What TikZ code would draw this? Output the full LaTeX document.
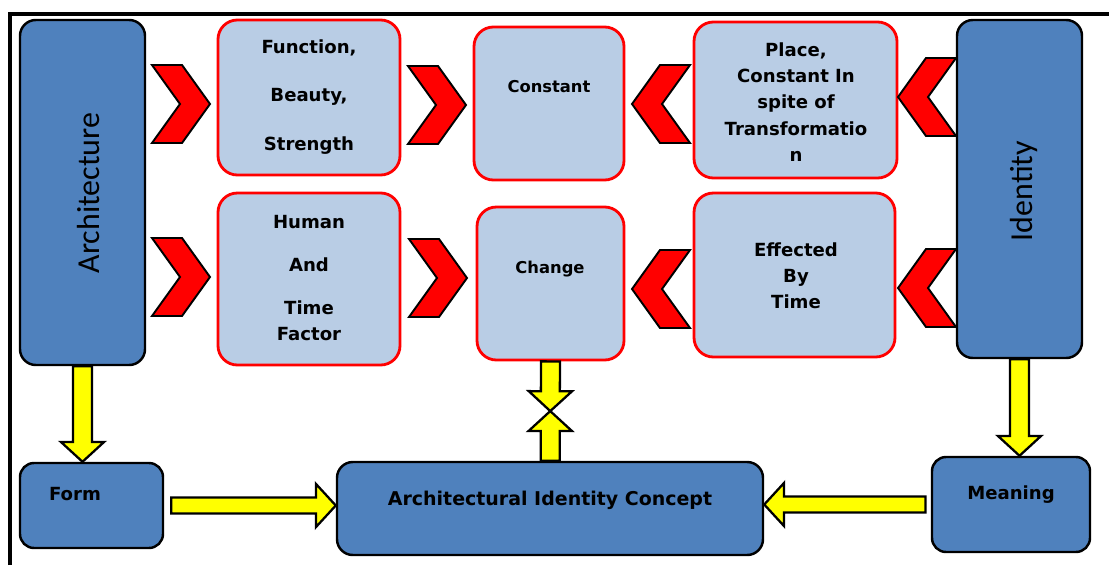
\documentclass[tikz,border=0pt]{standalone}
\usepackage{fontspec}
\setmainfont{DejaVu Sans}
\newfontfamily\calibfont{Carlito}
\usepackage{xcolor}
\usepackage{tikz}
\usetikzlibrary{positioning,fit,calc}
\definecolor{ident-blue}{RGB}{79,129,189}
\definecolor{ident-pale}{RGB}{185,205,229}
\definecolor{ident-red}{RGB}{255,0,0}
\definecolor{ident-yellow}{RGB}{255,255,0}

\tikzset{
  bluebox/.style={draw=black, line width=1.4pt, fill=ident-blue, rounded corners=9pt, inner sep=0pt},
  redbox/.style={draw=ident-red, line width=1.6pt, fill=ident-pale, rounded corners=11pt, inner sep=0pt},
  boxtext/.style={font=\bfseries\fontsize{10.3}{14.9}\selectfont, align=center, inner sep=0pt},
  smalltext/.style={font=\bfseries\fontsize{9.3}{12}\selectfont, inner sep=0pt},
  aictext/.style={font=\bfseries\fontsize{10.8}{13}\selectfont, inner sep=0pt},
  bigtext/.style={font=\calibfont\fontsize{18.2}{20}\selectfont, inner sep=0pt},
  chevron/.style={fill=ident-red, draw=black, line width=1.1pt, line join=miter},
  yarrow/.style={fill=ident-yellow, draw=black, line width=1.3pt, line join=miter},
  chevR/.pic={\draw[chevron] (-29,-39) -- (1,-39) -- (29,0) -- (1,39) -- (-29,39) -- (-1,0) -- cycle;},
  chevL/.pic={\draw[chevron] (29,-39) -- (-1,-39) -- (-29,0) -- (-1,39) -- (29,39) -- (1,0) -- cycle;}
}

% block arrow from #2 to #3, half shaft width #1
\newcommand{\blockarrow}[3][5.4pt]{%
  \draw[yarrow] let \p1=(#2), \p2=(#3),
      \n1={atan2(\y2-\y1,\x2-\x1)}, \n2={veclen(\x2-\x1,\y2-\y1)} in
    [shift={(\p1)}, rotate=\n1]
    (0pt,-#1) -- ({\n2-11.3pt},-#1) -- ({\n2-11.3pt},-12.3pt) -- ({\n2*1pt},0pt)
    -- ({\n2-11.3pt},12.3pt) -- ({\n2-11.3pt},#1) -- (0pt,#1) -- cycle;}

\begin{document}
\begin{tikzpicture}[x=0.02cm, y=-0.02cm]
  \useasboundingbox (0,0) rectangle (1109,565);

  % frame
  \draw[line width=2.2pt] (10,565) -- (10,14) -- (1109,14);

  % Architecture and Identity
  \node[bluebox, fit={(20,20) (145,365)}] (arch) {};
  \node[bigtext, rotate=90] (archT) at (89,193) {Architecture};
  \node[bluebox, fit={(957,20) (1082,358)}] (id) {};
  \node[bigtext, rotate=90] (idT) at (1024,191) {Identity};

  % top row
  \node[redbox, fit={(218,20) (400,175)}] (func) {};
  \node[boxtext] (funcT) at (309,97) {Function,\\[12.9pt]Beauty,\\[12.9pt]Strength};
  \node[redbox, fit={(474,27) (624,180)}] (const) {};
  \node[smalltext] (constT) at (549,87) {Constant};
  \node[redbox, fit={(694,22) (897,178)}] (place) {};
  \node[boxtext] (placeT) at (796,102) {Place,\\Constant In\\spite of\\Transformatio\\n};

  % bottom row
  \node[redbox, fit={(218,193) (400,365)}] (human) {};
  \node[boxtext] (humanT) at (309,278) {Human\\[9.5pt]And\\[9.5pt]Time\\Factor};
  \node[redbox, fit={(477,207) (624,360)}] (change) {};
  \node[smalltext] (changeT) at (550,269) {Change};
  \node[redbox, fit={(694,193) (895,357)}] (effect) {};
  \node[boxtext] (effectT) at (796,276) {Effected\\By\\Time};

  % lower boxes
  \node[bluebox, rounded corners=8pt, fit={(20,463) (163,548)}] (form) {};
  \node[boxtext] (formT) at (75,494) {Form};
  \node[bluebox, fit={(337,462) (763,555)}] (aic) {};
  \node[aictext] (aicT) at (550,500) {Architectural Identity Concept};
  \node[bluebox, rounded corners=8pt, fit={(932,457) (1090,552)}] (meaning) {};
  \node[boxtext] (meaningT) at (1011,495) {Meaning};

  % chevrons
  \pic at (181,104) {chevR};
  \pic at (437,105) {chevR};
  \pic at (661,104) {chevL};
  \pic at (927,97) {chevL};
  \pic at (181,277) {chevR};
  \pic at (438,278) {chevR};
  \pic at (661,289) {chevL};
  \pic at (927,288) {chevL};

  % yellow arrows
  \coordinate (meet) at ($(change.south)!0.5!(aic.north)$);
  \blockarrow{arch.south}{arch.south |- form.north}
  \blockarrow{id.south}{id.south |- meaning.north}
  \blockarrow{change.south}{meet}
  \blockarrow{meet |- aic.north}{meet}
  \blockarrow[4.5pt]{$(form.east)+(4pt,0)$}{form.east -| aic.west}
  \blockarrow[4.5pt]{$(meaning.west)+(-3pt,0)$}{meaning.west -| aic.east}
\end{tikzpicture}
\end{document}
